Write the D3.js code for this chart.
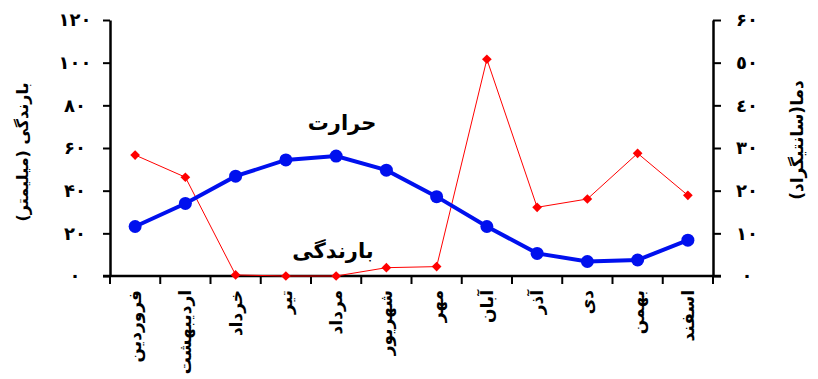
<!DOCTYPE html>
<html>
<head>
<meta charset="utf-8">
<script src="https://cdn.jsdelivr.net/npm/d3@7"></script>
<style>
    body { margin: 0; background: white; }
    svg text { font-family: "DejaVu Sans", sans-serif; font-weight: bold; fill: black; }
</style>
</head>
<body>
<svg id="chart" width="818" height="379"></svg>
<script>
var months = ["فروردین", "اردیبهشت", "خرداد", "تیر", "مرداد", "شهریور", "مهر", "آبان", "آذر", "دی", "بهمن", "اسفند"];

// precipitation (mm), left axis
var rain = [56.7, 46.3, 0.5, 0, 0, 3.9, 4.4, 101.6, 32.2, 36.1, 57.5, 37.8];
// temperature (C), right axis
var temp = [11.6, 17.0, 23.4, 27.2, 28.1, 24.8, 18.6, 11.6, 5.3, 3.4, 3.75, 8.4];

var leftTicks = [0, 20, 40, 60, 80, 100, 120];
var leftTickLabels = ["۰", "۲۰", "۴۰", "۶۰", "۸۰", "۱۰۰", "۱۲۰"];
var rightTicks = [0, 10, 20, 30, 40, 50, 60];
var rightTickLabels = ["۰", "۱۰", "۲۰", "۳۰", "٤٠", "٥٠", "۶۰"];

var svg = d3.select("#chart");
var plotLeft = 110, plotRight = 713, plotTop = 20, plotBottom = 276;

var x = d3.scaleBand().domain(months).range([plotLeft, plotRight]);
var yRain = d3.scaleLinear().domain([0, 120]).range([plotBottom, plotTop]);
var yTemp = d3.scaleLinear().domain([0, 60]).range([plotBottom, plotTop]);

function cx(i) { return x(months[i]) + x.bandwidth() / 2; }

// left axis
var gl = svg.append("g").attr("transform", "translate(" + plotLeft + ",0)")
    .call(d3.axisLeft(yRain).tickValues(leftTicks).tickSize(7).tickSizeOuter(0)
        .tickFormat(function (d, i) { return leftTickLabels[i]; }));
gl.selectAll("text").attr("x", -35).style("text-anchor", "middle").style("font-size", "18px");

// right axis
var gr = svg.append("g").attr("transform", "translate(" + plotRight + ",0)")
    .call(d3.axisRight(yTemp).tickValues(rightTicks).tickSize(8).tickSizeOuter(0)
        .tickFormat(function (d, i) { return rightTickLabels[i]; }));
gr.selectAll("text").attr("x", 34).style("text-anchor", "middle").style("font-size", "18px");

// bottom axis: ticks at band edges, labels at band centers
var gb = svg.append("g").attr("transform", "translate(0," + plotBottom + ")");
gb.append("line").attr("x1", plotLeft - 7).attr("x2", plotRight + 8).attr("stroke", "black").attr("stroke-width", 2.5);
var edges = months.map(function (m) { return x(m); }).concat([plotRight]);
gb.selectAll("line.tick").data(edges).enter().append("line")
    .attr("class", "tick")
    .attr("x1", function (d) { return d; }).attr("x2", function (d) { return d; })
    .attr("y1", 0).attr("y2", 8)
    .attr("stroke", "black").attr("stroke-width", 2);
gb.selectAll("text").data(months).enter().append("text")
    .attr("transform", function (d) { return "translate(" + (x(d) + x.bandwidth() / 2) + ",14) rotate(-90)"; })
    .attr("dy", "0.35em")
    .style("text-anchor", "end")
    .style("font-size", "17px")
    .text(function (d) { return d; });

svg.selectAll(".domain").attr("stroke", "black").attr("stroke-width", 2.5);
svg.selectAll(".tick line").attr("stroke", "black").attr("stroke-width", 2);

// precipitation line (red)
svg.append("path")
    .datum(rain)
    .attr("fill", "none")
    .attr("stroke", "red")
    .attr("stroke-width", 1)
    .attr("d", d3.line()
        .x(function (d, i) { return cx(i); })
        .y(function (d) { return yRain(d); }));

svg.selectAll("path.diamond").data(rain).enter().append("path")
    .attr("class", "diamond")
    .attr("fill", "red")
    .attr("transform", function (d, i) { return "translate(" + cx(i) + "," + yRain(d) + ")"; })
    .attr("d", d3.symbol().type(d3.symbolDiamond2).size(60));

// temperature line (blue)
svg.append("path")
    .datum(temp)
    .attr("fill", "none")
    .attr("stroke", "#0010ee")
    .attr("stroke-width", 4)
    .attr("d", d3.line()
        .x(function (d, i) { return cx(i); })
        .y(function (d) { return yTemp(d); }));

svg.selectAll("circle.dot").data(temp).enter().append("circle")
    .attr("class", "dot")
    .attr("fill", "#0010ee")
    .attr("cx", function (d, i) { return cx(i); })
    .attr("cy", function (d) { return yTemp(d); })
    .attr("r", 6.5);

// series labels
svg.append("text").attr("x", 342).attr("y", 130).style("text-anchor", "middle").style("font-size", "21px").text("حرارت");
svg.append("text").attr("x", 333).attr("y", 258).style("text-anchor", "middle").style("font-size", "21px").text("بارندگی");

// axis titles
svg.append("text").attr("transform", "translate(22,152) rotate(-90)").attr("dy", "0.35em")
    .style("text-anchor", "middle").style("font-size", "16px").text("بارندگی (میلیمتر)");
svg.append("text").attr("transform", "translate(797,140) rotate(-90)").attr("dy", "0.35em")
    .style("text-anchor", "middle").style("font-size", "17px").text("دما(سانتیگراد)");
</script>
</body>
</html>
